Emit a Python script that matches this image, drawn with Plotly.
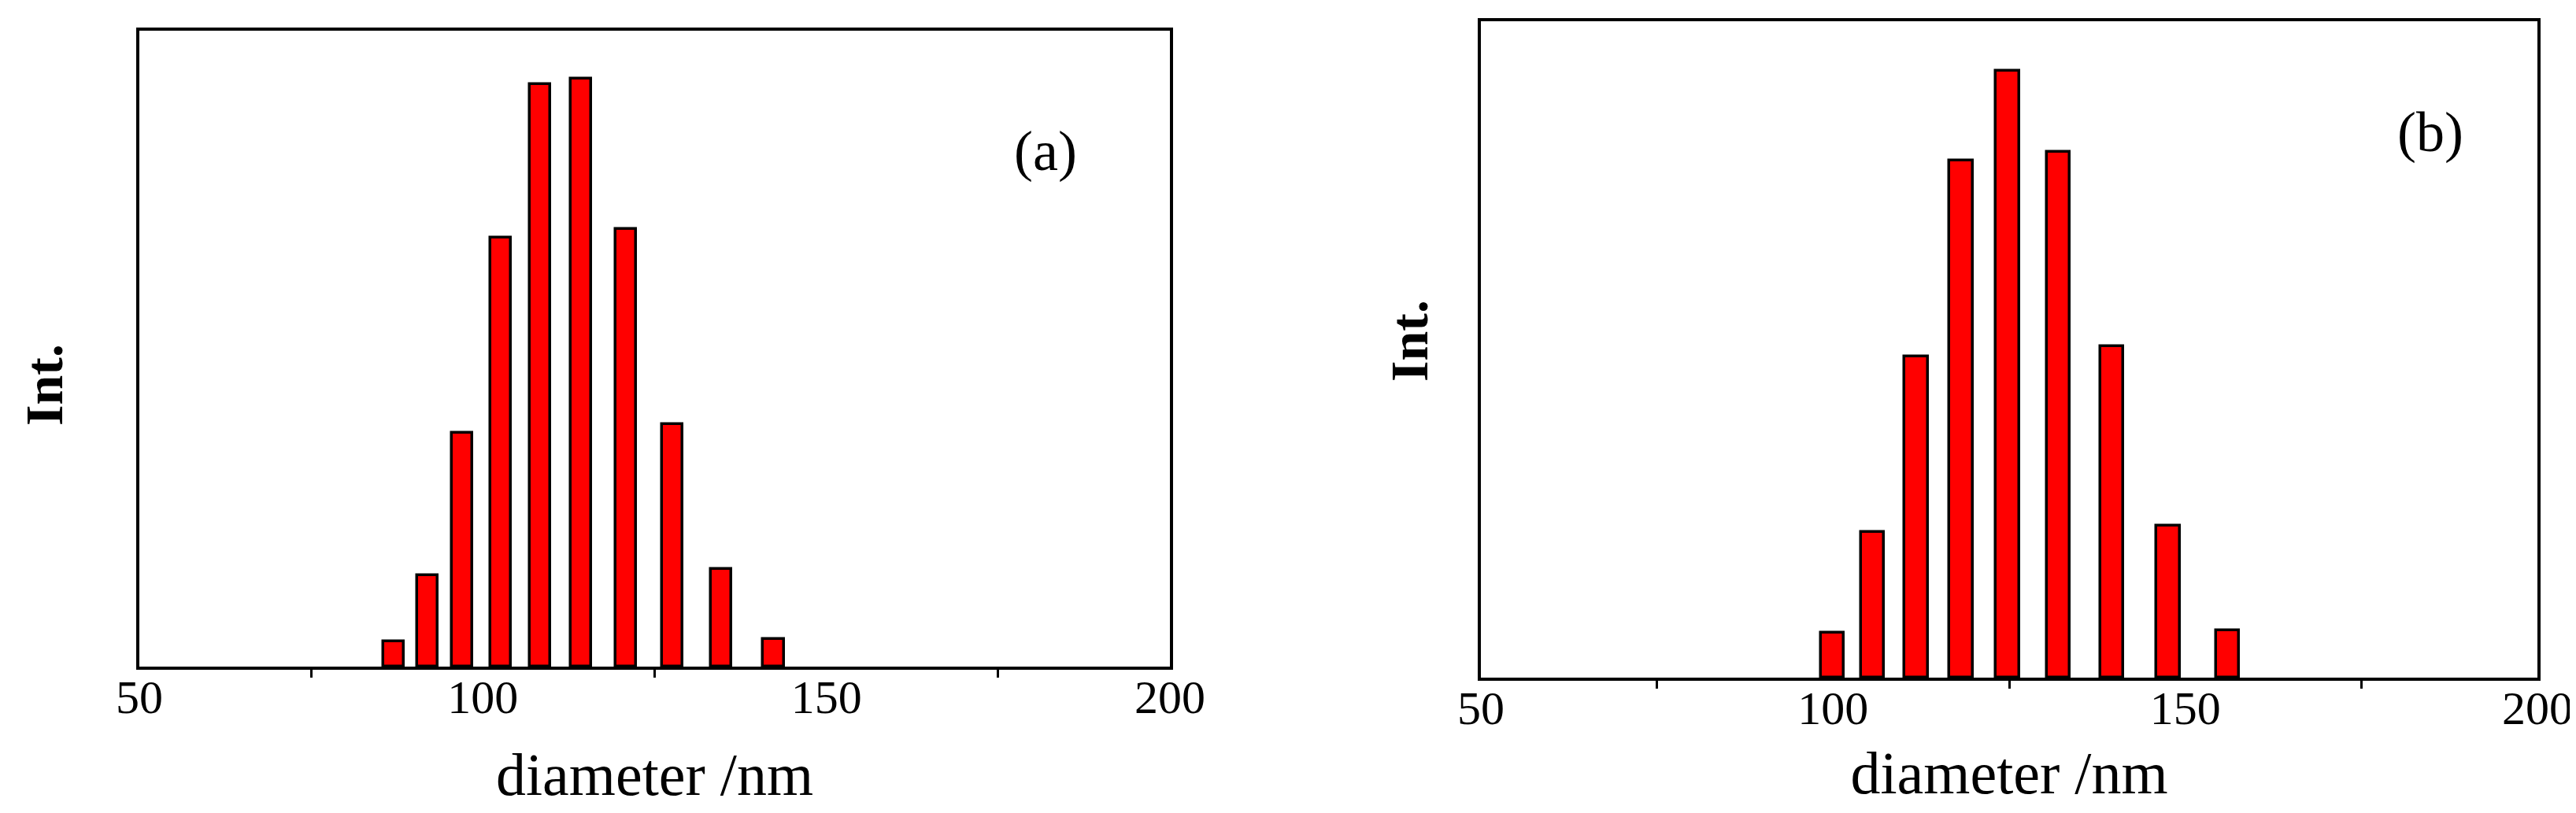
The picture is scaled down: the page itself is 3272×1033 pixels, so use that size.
import plotly.graph_objects as go

# ---- data ----
diam_a = [87.0, 91.9, 97.0, 102.6, 108.3, 114.3, 120.8, 127.6, 134.7, 142.3]
int_a = [3.9, 14.3, 36.7, 67.4, 91.6, 92.5, 68.8, 38.1, 15.3, 4.3]
diam_b = [99.9, 105.6, 111.8, 118.2, 124.8, 132.0, 139.6, 147.6, 156.0]
int_b = [6.8, 22.2, 48.9, 78.8, 92.5, 80.1, 50.5, 23.2, 7.2]
x_label_vals = [50, 100, 150, 200]
x_label_text = ["50", "100", "150", "200"]
x_minor_vals = [75, 125, 175]
x_title = "diameter /nm"
y_title = "Int."
panel_labels = ["(a)", "(b)"]

W, H = 3272, 1033
FONT = "Liberation Serif"

def px_dom_x(a, b):
    return [a / W, b / W]

def px_dom_y(top, bottom):
    return [1 - bottom / H, 1 - top / H]

fig = go.Figure()
fig.add_trace(go.Bar(x=diam_a, y=int_a, width=3.0, xaxis="x", yaxis="y",
                     marker=dict(color="#FF0000", line=dict(color="black", width=3.5)),
                     showlegend=False))
fig.add_trace(go.Bar(x=diam_b, y=int_b, width=3.3, xaxis="x2", yaxis="y2",
                     marker=dict(color="#FF0000", line=dict(color="black", width=3.5)),
                     showlegend=False))

def xaxis_main(domain, anchor, title_standoff):
    return dict(
        domain=domain, anchor=anchor, range=[50, 200], fixedrange=True,
        showline=True, linecolor="black", linewidth=4, mirror=True,
        showgrid=False, zeroline=False,
        tickmode="array", tickvals=x_label_vals, ticktext=x_label_text,
        ticks="", ticklabelstandoff=-17,
        tickfont=dict(family=FONT, size=60, color="black"),
        minor=dict(tickmode="array", tickvals=x_minor_vals, ticks="outside",
                   ticklen=10, tickwidth=3, tickcolor="black", showgrid=False),
        title=dict(text=x_title, font=dict(family=FONT, size=76, color="black"),
                   standoff=title_standoff),
        automargin=False,
    )

def xaxis_overlay(over, anchor):
    return dict(
        overlaying=over, anchor=anchor, range=[50, 200], fixedrange=True,
        showline=False, showgrid=False, zeroline=False, showticklabels=False,
        tickmode="array", tickvals=x_minor_vals, ticks="inside",
        ticklen=10, tickwidth=3, tickcolor="black", side="bottom",
    )

def yaxis_main(domain, anchor):
    return dict(
        domain=domain, anchor=anchor, range=[0, 100], fixedrange=True,
        showline=True, linecolor="black", linewidth=4, mirror=True,
        showgrid=False, zeroline=False, showticklabels=False, ticks="",
        automargin=False,
    )

def text_ann(text, x, y, size, angle=0):
    return dict(text=text, xref="paper", yref="paper", x=x / W, y=1 - y / H,
                xanchor="center", yanchor="middle", showarrow=False,
                textangle=angle, font=dict(family=FONT, size=size, color="black"))

fig.update_layout(
    width=W, height=H,
    margin=dict(l=0, r=0, t=0, b=0, autoexpand=False),
    paper_bgcolor="white", plot_bgcolor="white",
    bargap=0,
    xaxis=xaxis_main(px_dom_x(169, 1478), "y", 40),
    yaxis=yaxis_main(px_dom_y(31, 839), "x"),
    xaxis2=xaxis_main(px_dom_x(1873, 3215), "y2", 24),
    yaxis2=yaxis_main(px_dom_y(19, 853), "x2"),
    xaxis3=xaxis_overlay("x", "y"),
    xaxis4=xaxis_overlay("x2", "y2"),
    annotations=[
        text_ann(panel_labels[0], 1320, 184, 72),
        text_ann(panel_labels[1], 3079, 160, 72),
        text_ann("<b>" + y_title + "</b>", 48, 481, 68, -90),
        text_ann("<b>" + y_title + "</b>", 1782, 425, 68, -90),
    ],
)

fig.write_html("out.html")
